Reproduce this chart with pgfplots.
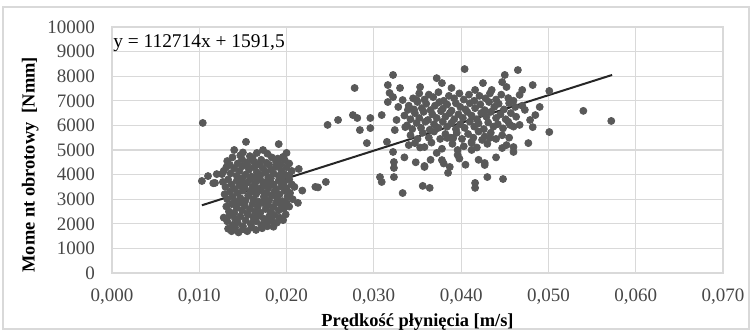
\documentclass[border=0pt]{standalone}
\usepackage{pgfplots}
\pgfplotsset{compat=1.18}
\usepackage{fontspec}
\setmainfont{Liberation Serif}
\pgfplotstableread{
x y
0.0104 6100
0.0103 3740
0.0110 3940
0.0118 3660
0.0120 4020
0.0126 4020
0.0116 3650
0.0214 4230
0.0233 3500
0.0236 3480
0.0213 2850
0.0245 3700
0.0218 3350
0.0140 5000
0.01535 5330
0.0166 4880
0.0173 5000
0.0191 5240
0.0200 4880
0.0196 4720
0.0150 4900
0.0158 4750
0.0178 4850
0.0132 4550
0.0138 4700
0.0144 4450
0.0149 4620
0.0155 4500
0.0161 4680
0.0167 4420
0.0171 4600
0.0177 4480
0.0183 4700
0.0188 4520
0.0193 4420
0.0198 4580
0.0203 4450
0.0135 4400
0.0147 4780
0.0163 4520
0.0180 4400
0.0190 4650
0.0128 4150
0.0131 4300
0.0136 4050
0.0140 4250
0.0143 3950
0.0146 4150
0.0150 4350
0.0153 4000
0.0157 4200
0.0160 3920
0.0163 4300
0.0166 4100
0.0170 3980
0.0173 4250
0.0176 4080
0.0179 3900
0.0182 4200
0.0185 4050
0.0188 4320
0.0191 3950
0.0194 4180
0.0197 4020
0.0200 4300
0.0203 3980
0.0206 4150
0.0155 4380
0.0169 4400
0.0127 3700
0.0130 3500
0.0133 3800
0.0137 3600
0.0140 3420
0.0143 3750
0.0146 3550
0.0149 3850
0.0152 3450
0.0155 3680
0.0158 3800
0.0161 3500
0.0164 3650
0.0167 3420
0.0170 3780
0.0173 3550
0.0176 3700
0.0179 3450
0.0182 3850
0.0185 3600
0.0188 3420
0.0191 3750
0.0194 3520
0.0197 3680
0.0200 3450
0.0203 3800
0.0206 3600
0.0209 3500
0.0150 3620
0.0165 3880
0.0180 3620
0.0195 3870
0.0129 3200
0.0132 3000
0.0135 3300
0.0138 3100
0.0141 2920
0.0144 3250
0.0147 3050
0.0150 3350
0.0153 2950
0.0156 3150
0.0159 3300
0.0162 3000
0.0165 3200
0.0168 2900
0.0171 3350
0.0174 3100
0.0177 3250
0.0180 2950
0.0183 3150
0.0186 3300
0.0189 3050
0.0192 3200
0.0195 2920
0.0198 3350
0.0201 3100
0.0204 3250
0.0207 3000
0.0160 3380
0.0175 3000
0.0131 2700
0.0134 2500
0.0137 2800
0.0140 2450
0.0143 2650
0.0146 2850
0.0149 2550
0.0152 2750
0.0155 2420
0.0158 2600
0.0161 2800
0.0164 2500
0.0167 2700
0.0170 2450
0.0173 2850
0.0176 2600
0.0179 2750
0.0182 2480
0.0185 2680
0.0188 2850
0.0191 2550
0.0194 2750
0.0197 2620
0.0200 2850
0.0203 2700
0.0128 2250
0.0132 2100
0.0135 2350
0.0138 1950
0.0141 2200
0.0144 2050
0.0147 2300
0.0150 1900
0.0153 2150
0.0156 2380
0.0159 2000
0.0162 2250
0.0165 2100
0.0168 2320
0.0171 1950
0.0174 2200
0.0177 2050
0.0180 2300
0.0183 2120
0.0186 2350
0.0189 2050
0.0192 2250
0.0196 2150
0.0199 2380
0.0133 1800
0.0137 1700
0.0141 1850
0.0145 1650
0.0150 1780
0.0155 1700
0.0160 1850
0.0165 1750
0.0172 1820
0.0178 1900
0.0185 1880
}\lowcluster
\pgfplotstableread{
x y
0.0322 8050
0.0278 7520
0.0404 8290
0.0372 7920
0.0378 7720
0.0389 7520
0.0353 7560
0.0316 7640
0.0330 7520
0.0318 7320
0.0425 7720
0.0435 7440
0.0247 6020
0.0259 6220
0.0276 6420
0.0281 6300
0.0284 5810
0.0296 5890
0.0296 6300
0.0309 6420
0.0292 5280
0.0315 5330
0.0324 5810
0.0336 5930
0.0326 6220
0.0339 6630
0.0328 6750
0.0316 6950
0.0322 7150
0.0333 7030
0.0349 7030
0.0322 4920
0.0358 5120
0.0372 4880
0.0427 4470
0.0358 4350
0.0412 5280
0.0307 3900
0.0309 3700
0.0323 3900
0.0323 4270
0.0323 4510
0.0333 3250
0.0358 4310
0.0356 3540
0.0364 3460
0.0385 4070
0.0387 4310
0.0427 4390
0.0430 3900
0.0416 3660
0.0416 3460
0.0448 3820
0.0465 8250
0.0450 8050
0.0482 7640
0.0501 7400
0.0490 6750
0.0485 6420
0.0540 6590
0.0572 6180
0.0501 5730
0.0477 5280
0.0460 5120
0.0460 4920
0.0447 5080
0.0470 7440
0.0467 7240
0.0452 7560
0.0454 7110
0.0462 6750
0.0473 6630
0.0479 6220
0.0467 6020
0.0456 6020
0.0482 5930
0.0416 7440
0.0447 7760
0.0347 5280
0.0378 4590
0.0396 5000
0.0396 4800
0.0412 5000
0.0424 5410
0.0412 5330
0.0433 5490
0.0384 5490
0.0391 5490
0.0345 7100
0.0352 7300
0.0358 7050
0.0363 7250
0.0368 7150
0.0374 7350
0.0380 7000
0.0386 7200
0.0392 7100
0.0398 7300
0.0403 7050
0.0409 7250
0.0415 7000
0.0421 7200
0.0428 7100
0.0433 7300
0.0440 7050
0.0446 7250
0.0460 7000
0.0340 6800
0.0346 6650
0.0350 6950
0.0355 6700
0.0360 6880
0.0365 6620
0.0370 6800
0.0375 6950
0.0379 6680
0.0384 6850
0.0389 6600
0.0394 6900
0.0399 6750
0.0405 6650
0.0410 6900
0.0416 6700
0.0422 6850
0.0427 6620
0.0432 6950
0.0438 6750
0.0443 6880
0.0449 6650
0.0455 6900
0.0470 6800
0.0335 6400
0.0342 6250
0.0347 6500
0.0352 6300
0.0357 6550
0.0362 6220
0.0367 6450
0.0372 6300
0.0377 6580
0.0382 6350
0.0387 6500
0.0392 6250
0.0397 6450
0.0402 6300
0.0407 6550
0.0412 6400
0.0418 6250
0.0423 6500
0.0429 6350
0.0434 6550
0.0440 6300
0.0445 6450
0.0451 6250
0.0457 6500
0.0463 6350
0.0338 6000
0.0344 5850
0.0349 6100
0.0354 5900
0.0359 6150
0.0364 5820
0.0369 6050
0.0374 5900
0.0379 6150
0.0384 5950
0.0389 6100
0.0394 5850
0.0399 6050
0.0404 5900
0.0410 6150
0.0415 5950
0.0420 6080
0.0426 5850
0.0431 6120
0.0437 5950
0.0442 6050
0.0448 5880
0.0454 6150
0.0460 5950
0.0342 5600
0.0350 5450
0.0356 5700
0.0363 5500
0.0369 5750
0.0376 5450
0.0382 5650
0.0388 5500
0.0395 5700
0.0401 5450
0.0408 5650
0.0414 5500
0.0420 5750
0.0427 5550
0.0434 5700
0.0440 5450
0.0447 5600
0.0455 5500
0.0340 5200
0.0353 5100
0.0366 5300
0.0378 5050
0.0390 5250
0.0403 5150
0.0418 5100
0.0430 5250
0.0452 5200
0.0335 4700
0.0348 4500
0.0365 4600
0.0380 4450
0.0398 4650
0.0405 4400
0.0420 4600
0.0440 4700
}\highcluster
\definecolor{dotgray}{HTML}{595959}
\definecolor{gridgray}{HTML}{D9D9D9}
\begin{document}
\begin{tikzpicture}
\useasboundingbox (-56pt,-28.5pt) rectangle (319pt,136.5pt);
\draw[gridgray, line width=0.6pt] (-54.5pt,-28pt) rectangle (318.5pt,133pt);
\begin{axis}[
  at={(0,0)}, anchor=south west,
  scale only axis, width=305.5pt, height=123pt,
  xmin=0, xmax=0.07, ymin=0, ymax=10000,
  xtick={0,0.01,0.02,0.03,0.04,0.05,0.06,0.07},
  ytick={0,1000,2000,3000,4000,5000,6000,7000,8000,9000,10000},
  grid=major, grid style={draw=gridgray, line width=0.6pt},
  axis line style={draw=gridgray, line width=0.6pt},
  major tick length=0pt,
  scaled x ticks=false, scaled y ticks=false,
  ticklabel style={font=\fontsize{9.5}{10}\selectfont, text=black!72},
  xticklabel style={yshift=-4.5pt, /pgf/number format/.cd, fixed, fixed zerofill, precision=3, use comma, assume math mode=true},
  yticklabel style={xshift=-5pt, /pgf/number format/.cd, fixed, 1000 sep={}, assume math mode=true},
  xlabel={Prędkość płynięcia [m/s]},
  ylabel={Mome nt obrotowy\ \ [Nmm]},
  label style={font=\bfseries\fontsize{9.2}{10}\selectfont},
  xlabel style={at={(axis description cs:0.5,-0.199)}, anchor=center},
  ylabel style={at={(axis description cs:-0.134,0.44)}, anchor=center},
  clip=false,
]
\addplot[only marks, mark=*, mark size=1.75pt, mark options={fill=dotgray, draw=dotgray}] table[x=x,y=y] {\lowcluster};
\addplot[only marks, mark=*, mark size=1.75pt, mark options={fill=dotgray, draw=dotgray}] table[x=x,y=y] {\highcluster};
\addplot[black!85, line width=1pt] coordinates {(0.0103,2752.5) (0.0573,8050.4)};
\node[anchor=west, inner sep=0pt, font=\fontsize{9.7}{10}\selectfont] at (axis cs:0.0001,9350) {y = 112714x + 1591,5};
\end{axis}
\end{tikzpicture}
\end{document}
